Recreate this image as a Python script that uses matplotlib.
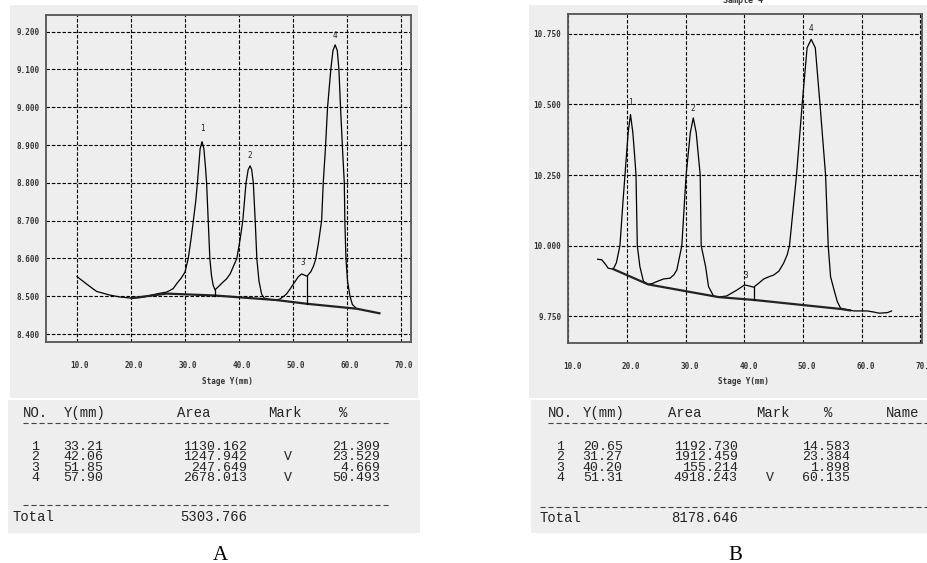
import matplotlib
matplotlib.use("Agg")
import matplotlib.pyplot as plt
from matplotlib.patches import Rectangle
from matplotlib.lines import Line2D
import matplotlib.transforms as mtransforms

W, H = 927, 563

# ---------------- data: chromatogram A ----------------
xA = [10.0, 12.0, 13.6, 16.1, 18.0, 20.1, 22.0, 23.5, 25.0, 26.6, 27.8, 28.5, 29.3, 30.0,
      30.6, 31.1, 31.55, 32.0, 32.3, 32.8, 33.15, 33.5, 33.8, 34.0, 34.3, 34.6, 34.9, 35.2, 35.55,
      36.3, 37.0, 37.7, 38.4, 38.9, 39.6, 40.2, 40.7, 41.3, 41.7, 42.05, 42.35, 42.65, 43.0, 43.3,
      43.7, 44.2, 44.7, 45.5, 46.5, 47.5, 48.3, 48.8, 49.5, 50.1, 51.0, 51.6, 52.1, 52.6,
      53.3, 53.8, 54.2, 54.7, 55.3, 55.6, 56.0, 56.4, 57.0, 57.4, 57.8, 58.2, 58.5, 58.8, 59.2,
      59.5, 59.6, 59.8, 60.1, 60.55, 61.0, 61.8]
yA = [8.552, 8.530, 8.513, 8.503, 8.498, 8.495, 8.497, 8.502, 8.507, 8.511, 8.520, 8.534, 8.548, 8.564,
      8.600, 8.650, 8.700, 8.753, 8.800, 8.890, 8.909, 8.890, 8.840, 8.800, 8.700, 8.600, 8.555, 8.530, 8.517,
      8.527, 8.537, 8.546, 8.560, 8.577, 8.600, 8.650, 8.700, 8.800, 8.835, 8.845, 8.835, 8.800, 8.700, 8.600,
      8.540, 8.505, 8.495, 8.492, 8.490, 8.492, 8.500, 8.506, 8.520, 8.533, 8.552, 8.559, 8.556, 8.553,
      8.565, 8.580, 8.598, 8.640, 8.700, 8.800, 8.890, 9.000, 9.100, 9.150, 9.165, 9.150, 9.100, 9.000, 8.880,
      8.800, 8.700, 8.600, 8.540, 8.500, 8.478, 8.467]
baseA_x = [20.1, 26.6, 35.55, 46.9, 52.65, 61.8, 66.0]
baseA_y = [8.495, 8.507, 8.502, 8.490, 8.480, 8.467, 8.455]
dropA_x = [35.55, 52.65]
dropA_top = [8.517, 8.553]
dropA_bot = [8.502, 8.480]
peakA_lab = ["1", "2", "3", "4"]
peakA_x = [33.2, 42.0, 51.8, 57.8]
peakA_y = [8.944, 8.873, 8.588, 9.190]
xticksA = [10, 20, 30, 40, 50, 60, 70]
yticksA = [8.4, 8.5, 8.6, 8.7, 8.8, 8.9, 9.0, 9.1, 9.2]

# ---------------- data: chromatogram B ----------------
xB = [15.0, 15.7, 16.3, 16.8, 17.66, 18.2, 18.8, 19.3, 19.66, 20.2, 20.6, 21.0, 21.3, 21.54, 21.76,
      22.2, 22.8, 23.6, 24.3, 25.1, 26.2, 27.35, 28.0, 28.5, 29.35, 30.08, 30.8, 31.3, 31.8, 32.48,
      32.65, 33.4, 33.9, 34.75, 35.6, 37.0, 38.75, 40.05, 40.7, 41.6, 42.45, 43.3, 44.2, 45.0, 45.9,
      46.7, 47.3, 47.7, 48.9, 49.86, 50.7, 51.4, 52.1, 52.9, 53.85, 54.3, 54.7, 55.3, 55.85, 56.4,
      57.6, 58.7, 60.95, 62.1, 62.96, 64.4, 65.1]
yB = [9.952, 9.950, 9.935, 9.920, 9.917, 9.940, 10.000, 10.150, 10.250, 10.400, 10.464, 10.400, 10.320, 10.250, 10.000,
      9.926, 9.874, 9.863, 9.866, 9.873, 9.882, 9.885, 9.897, 9.914, 10.000, 10.250, 10.400, 10.452, 10.400, 10.250,
      10.000, 9.926, 9.855, 9.822, 9.818, 9.822, 9.843, 9.861, 9.858, 9.853, 9.867, 9.882, 9.890, 9.896, 9.910,
      9.938, 9.967, 10.000, 10.250, 10.500, 10.700, 10.730, 10.700, 10.500, 10.250, 10.000, 9.890, 9.843, 9.802, 9.779,
      9.773, 9.769, 9.769, 9.765, 9.761, 9.763, 9.769]
baseB_x = [17.66, 23.6, 35.6, 41.6, 56.4, 58.0]
baseB_y = [9.917, 9.863, 9.818, 9.808, 9.776, 9.771]
dropB_x = [41.6]
dropB_top = [9.853]
dropB_bot = [9.808]
peakB_lab = ["1", "2", "3", "4"]
peakB_x = [20.6, 31.2, 40.2, 51.4]
peakB_y = [10.507, 10.487, 9.896, 10.769]
xticksB = [10, 20, 30, 40, 50, 60, 70]
yticksB = [9.75, 10.0, 10.25, 10.5, 10.75]

# ---------------- data: tables ----------------
noA = ["1", "2", "3", "4"]
yposA = ["33.21", "42.06", "51.85", "57.90"]
areaA = ["1130.162", "1247.942", "247.649", "2678.013"]
markA = ["", "V", "", "V"]
pctA = ["21.309", "23.529", "4.669", "50.493"]
totalA = "5303.766"

noB = ["1", "2", "3", "4"]
yposB = ["20.65", "31.27", "40.20", "51.31"]
areaB = ["1192.730", "1912.459", "155.214", "4918.243"]
markB = ["", "", "", "V"]
pctB = ["14.583", "23.384", "1.898", "60.135"]
totalB = "8178.646"

GRAY = "#eeeeee"
MONO = "DejaVu Sans Mono"
TAB = "Liberation Mono"

fig = plt.figure(figsize=(W / 100, H / 100), dpi=100)
fig.patch.set_facecolor("white")


def fx(x):
    return x / W


def fy(y):
    return 1 - y / H


def bg(x0, y0, x1, y1):
    fig.patches.append(Rectangle((fx(x0), fy(y1)), fx(x1) - fx(x0), fy(y0) - fy(y1),
                                 transform=fig.transFigure, facecolor=GRAY,
                                 edgecolor="none", zorder=-5))


bg(10, 5, 418, 398)
bg(8, 400, 420, 533)
bg(529, 5, 927, 398)
bg(531, 400, 927, 533)


def chart(rect, x, y, bx, by, dx, dt, db, labs, lx, ly, xt, yt, xlim, ylim, yfmt, xoff, ypad):
    ax = fig.add_axes(rect)
    ax.set_facecolor("none")
    ax.set_xlim(*xlim)
    ax.set_ylim(*ylim)
    ax.set_xticks(xt)
    ax.set_yticks(yt)
    ax.set_xticklabels(["%.1f" % v for v in xt])
    ax.set_yticklabels([yfmt % v for v in yt])
    ax.grid(True, color="black", lw=0.8, linestyle=(0, (3.2, 1.6)))
    ax.tick_params(length=0, labelsize=5.5, colors="#333333")
    ax.tick_params(axis="x", pad=14)
    ax.tick_params(axis="y", pad=ypad)
    for lab in ax.get_xticklabels() + ax.get_yticklabels():
        lab.set_fontfamily(MONO)
        lab.set_fontweight("bold")
    off = mtransforms.ScaledTranslation(xoff / 100, 0, fig.dpi_scale_trans)
    for lab in ax.get_xticklabels():
        lab.set_transform(lab.get_transform() + off)
    for s in ax.spines.values():
        s.set_color("#555555")
        s.set_linewidth(1.3)
    ax.plot(x, y, color="black", lw=0.9, zorder=3)
    ax.plot(bx, by, color="#222222", lw=1.6, zorder=3)
    for xi, t, b in zip(dx, dt, db):
        ax.plot([xi, xi], [b, t], color="black", lw=0.9, zorder=3)
    for t, xi, yi in zip(labs, lx, ly):
        ax.text(xi, yi, t, ha="center", va="center", fontsize=5.5,
                family=MONO, color="#222222", zorder=4)
    return ax


axA = chart([46 / W, fy(342), 365 / W, 327 / H], xA, yA, baseA_x, baseA_y,
            dropA_x, dropA_top, dropA_bot, peakA_lab, peakA_x, peakA_y,
            xticksA, yticksA, (4.26, 71.85), (8.379, 9.244), "%.3f", 3, 4.3)
axB = chart([568.3 / W, fy(342.7), 353.2 / W, 328.7 / H], xB, yB, baseB_x, baseB_y,
            dropB_x, dropB_top, dropB_bot, peakB_lab, peakB_x, peakB_y,
            xticksB, yticksB, (10.0, 70.2), (9.6566, 10.8197), "%.3f", 4, 5)

fig.text(fx(227), fy(382), "Stage Y(mm)", ha="center", va="center", fontsize=5.5,
         family=MONO, fontweight="bold", color="#333333")
fig.text(fx(743), fy(382), "Stage Y(mm)", ha="center", va="center", fontsize=5.5,
         family=MONO, fontweight="bold", color="#333333")
fig.text(fx(743), fy(0.5), "Sample 4", ha="center", va="center", fontsize=6,
         family=MONO, fontweight="bold", color="#333333")

TC = "#222222"
FS = 9.5
LS = 0.8


def t(x, y, s, ha="left", fs=FS):
    fig.text(fx(x), fy(y), s, ha=ha, va="center", fontsize=fs, family=TAB, color=TC,
             linespacing=LS)


def col(x, y, items, ha="left"):
    t(x, y, "\n".join(items), ha=ha)


def dash(x0, x1, y):
    fig.lines.append(Line2D([fx(x0), fx(x1)], [fy(y), fy(y)], transform=fig.transFigure,
                            color="#444444", lw=0.8, linestyle=(0, (4.6, 2.6))))


ROWS_Y = 462.5
HF = 10

# table A
t(22.7, 412.7, "NO.", fs=HF)
t(63.3, 412.7, "Y(mm)", fs=HF)
t(176.7, 412.7, "Area", fs=HF)
t(267.7, 412.7, "Mark", fs=HF)
t(343.3, 412.7, "%", ha="center", fs=HF)
dash(22.7, 390, 423)
col(35, ROWS_Y, noA, ha="center")
col(63.3, ROWS_Y, yposA)
col(246.7, ROWS_Y, areaA, ha="right")
col(288, ROWS_Y, [m if m else " " for m in markA], ha="center")
col(380, ROWS_Y, pctA, ha="right")
dash(22.7, 390, 504.5)
t(12.7, 517, "Total", fs=HF)
t(246.7, 517, totalA, ha="right", fs=HF)

# table B
t(548.3, 412.7, "NO.", fs=HF)
t(582.7, 412.7, "Y(mm)", fs=HF)
t(668.3, 412.7, "Area", fs=HF)
t(756, 412.7, "Mark", fs=HF)
t(828.3, 412.7, "%", ha="center", fs=HF)
t(886, 412.7, "Name", fs=HF)
dash(548.3, 927, 423.3)
col(560, ROWS_Y, noB, ha="center")
col(582.7, ROWS_Y, yposB)
col(737.7, ROWS_Y, areaB, ha="right")
col(770, ROWS_Y, [m if m else " " for m in markB], ha="center")
col(850, ROWS_Y, pctB, ha="right")
dash(540, 927, 506.5)
t(540, 518, "Total", fs=HF)
t(737.7, 518, totalB, ha="right", fs=HF)

fig.text(fx(220), fy(555), "A", ha="center", va="center", fontsize=15,
         family="Liberation Serif", color="black")
fig.text(fx(735), fy(555), "B", ha="center", va="center", fontsize=15,
         family="Liberation Serif", color="black")

fig.savefig("out.png", dpi=100, facecolor="white")
